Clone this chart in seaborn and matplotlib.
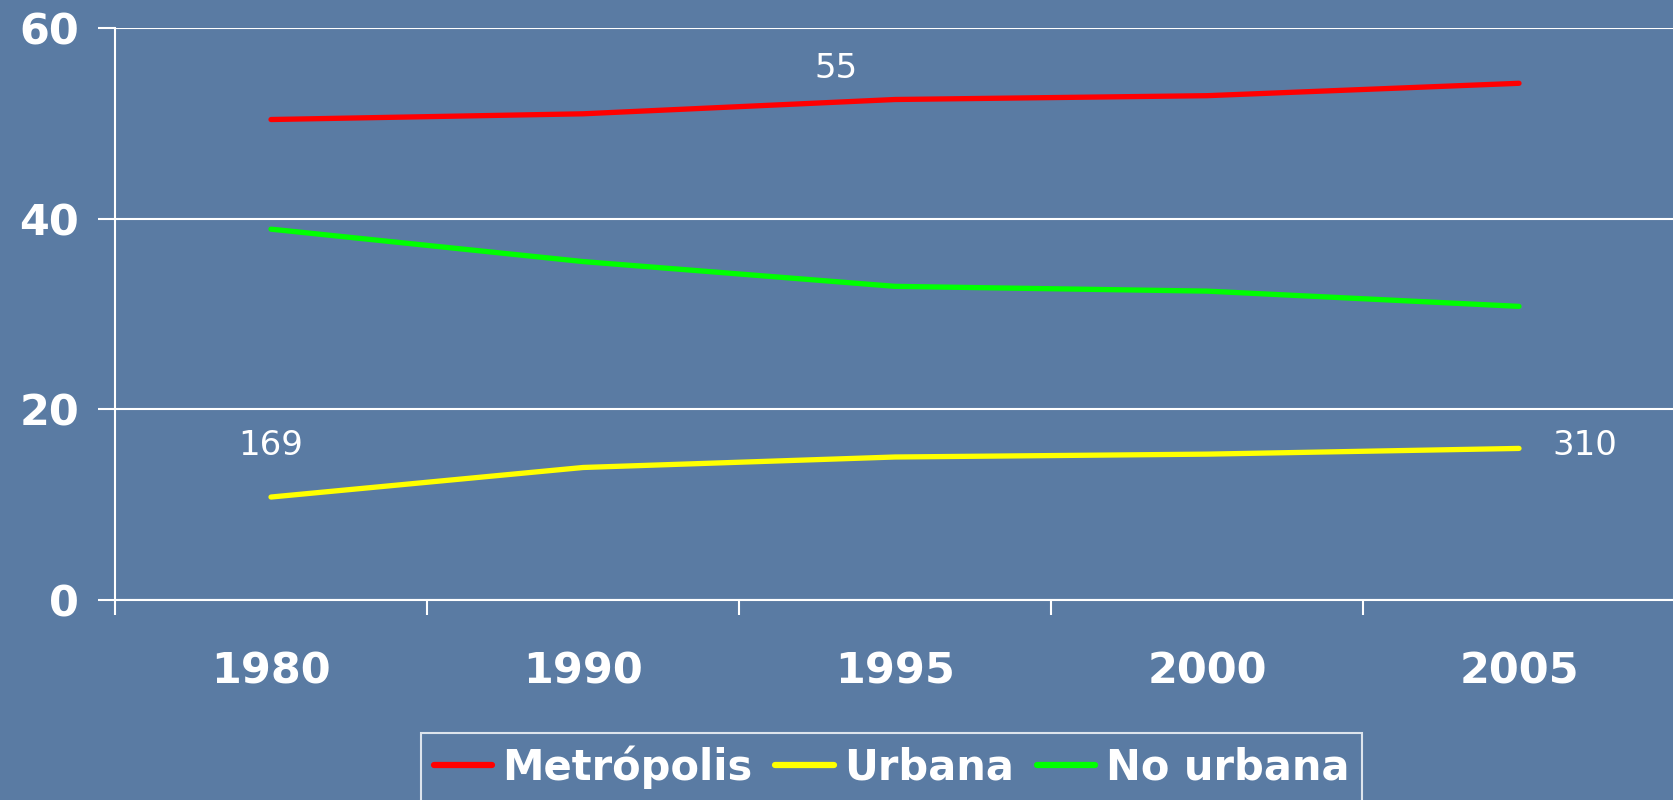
import matplotlib
matplotlib.use("Agg")
import matplotlib.pyplot as plt
import seaborn as sns
import pandas as pd
from matplotlib.ticker import FixedLocator

# data
years = ["1980", "1990", "1995", "2000", "2005"]
metropolis = [50.4, 51.0, 52.5, 52.9, 54.2]
urbana = [10.8, 13.9, 15.0, 15.3, 15.9]
no_urbana = [38.9, 35.5, 32.9, 32.4, 30.8]
series_names = ["Metrópolis", "Urbana", "No urbana"]
colors = {"Metrópolis": "#ff0000", "Urbana": "#ffff00", "No urbana": "#00ff00"}

# annotation labels (text, x position in category units, y value)
notes = [("55", 1.81, 55.7), ("169", 0.0, 16.2), ("310", 4.21, 16.2)]

bg = "#5a7ba3"

df = pd.DataFrame({
    "year": years * 3,
    "value": metropolis + urbana + no_urbana,
    "serie": sum([[n] * len(years) for n in series_names], []),
})

sns.set_style("white")
plt.rcParams["font.family"] = ["DejaVu Sans"]

fig = plt.figure(figsize=(16.73, 8), dpi=100)
fig.patch.set_facecolor(bg)
ax = fig.add_axes([115 / 1673, 0.25, 1560 / 1673, 0.715])
ax.set_facecolor(bg)

sns.lineplot(data=df, x="year", y="value", hue="serie", hue_order=series_names,
             palette=colors, linewidth=3.8, ax=ax, sort=False,
             solid_capstyle="round", legend=False)

ax.set_xlim(-0.5, 4.5)
ax.set_ylim(0, 60)
ax.set_yticks([0, 20, 40, 60])
ax.yaxis.grid(True, color="white", linewidth=1.5)
ax.set_axisbelow(True)

for s in ["top", "right"]:
    ax.spines[s].set_visible(False)
for s in ["left", "bottom"]:
    ax.spines[s].set_color("white")
    ax.spines[s].set_linewidth(1.5)

ax.set_xticks(range(len(years)))
ax.set_xticklabels(years)
ax.xaxis.set_minor_locator(FixedLocator([-0.5, 0.5, 1.5, 2.5, 3.5]))
ax.tick_params(axis="x", which="major", bottom=True, length=0, pad=36,
               labelsize=31, labelcolor="white")
ax.tick_params(axis="x", which="minor", bottom=True, length=11, width=1.5,
               color="white", direction="out")
ax.tick_params(axis="y", left=True, length=12, width=1.5, color="white",
               direction="out", pad=14, labelsize=31, labelcolor="white")
for lab in ax.get_xticklabels() + ax.get_yticklabels():
    lab.set_fontweight("bold")
ax.set_xlabel("")
ax.set_ylabel("")

for txt, x, y in notes:
    ax.text(x, y, txt, color="white", fontsize=24.5, ha="center", va="center")

handles = [plt.Line2D([], [], color=colors[n], linewidth=4.5, solid_capstyle="round")
           for n in series_names]
leg = fig.legend(handles, series_names, loc="upper left",
                 bbox_to_anchor=(421 / 1673, 1 - 733 / 800), borderaxespad=0,
                 ncol=3, frameon=True, fancybox=False,
                 handlelength=1.4, handletextpad=0.25, columnspacing=0.55,
                 borderpad=0.3, prop={"weight": "bold", "size": 30})
leg.get_frame().set_facecolor("none")
leg.get_frame().set_edgecolor("white")
leg.get_frame().set_linewidth(1.5)
for t in leg.get_texts():
    t.set_color("white")

fig.savefig("out.png", dpi=100, facecolor=bg)
